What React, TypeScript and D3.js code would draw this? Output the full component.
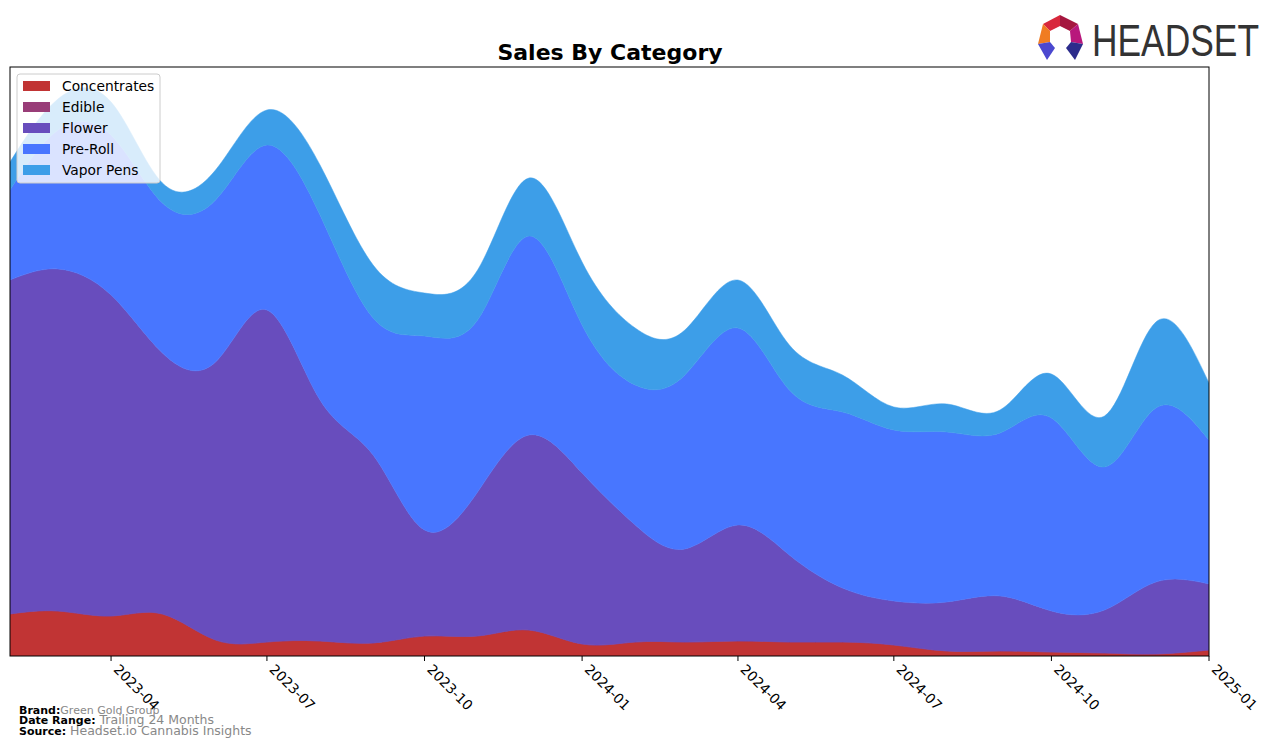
import React from "react";
import * as d3 from "d3";

const months = [
  "2023-02", "2023-03", "2023-04", "2023-05", "2023-06", "2023-07", "2023-08", "2023-09",
  "2023-10", "2023-11", "2023-12", "2024-01", "2024-02", "2024-03", "2024-04", "2024-05",
  "2024-06", "2024-07", "2024-08", "2024-09", "2024-10", "2024-11", "2024-12", "2025-01",
];
const categories = ["Concentrates", "Edible", "Flower", "Pre-Roll", "Vapor Pens"];
const concentrates = [42, 45, 40, 42, 16, 14, 15, 13, 20, 20, 26, 12, 14, 14, 15, 14, 14, 11, 5, 5, 4, 3, 2, 6];
const edible = [0, 0, 0, 0, 0, 0, 0, 0, 0, 0, 0, 0, 0, 0, 0, 0, 0, 0, 0, 0, 0, 0, 0, 0];
const flower = [334, 342, 321, 261, 278, 332, 241, 188, 106, 144, 195, 171, 117, 93, 116, 87, 54, 44, 49, 55, 41, 43, 72, 66];
const preRoll = [90, 139, 160, 150, 162, 165, 185, 137, 194, 172, 199, 148, 140, 174, 197, 165, 176, 171, 170, 163, 193, 143, 174, 144];
const vaporPens = [28, 31, 33, 20, 30, 35, 50, 53, 43, 50, 58, 63, 57, 45, 48, 45, 37, 23, 28, 23, 44, 51, 86, 57];
const tickLabels = ["2023-04", "2023-07", "2023-10", "2024-01", "2024-04", "2024-07", "2024-10", "2025-01"];
const colors = ["#c13434", "#993d78", "#684dbd", "#4876ff", "#3d9ee8"];

const W = 1276;
const H = 747;
const left = 10, right = 1209, top = 67, bottom = 656;

export default function App() {
  const parse = d3.timeParse("%Y-%m");
  const dates = months.map((m) => parse(m) as Date);
  const seriesVals = [concentrates, edible, flower, preRoll, vaporPens];
  const rows = dates.map((d, i) => {
    const r: any = { date: d };
    categories.forEach((c, k) => (r[c] = seriesVals[k][i]));
    return r;
  });
  const stack = d3.stack<any>().keys(categories);
  const stacked = stack(rows);

  const x = d3.scaleTime().domain([dates[0], dates[dates.length - 1]]).range([left, right]);
  const y = d3.scaleLinear().domain([0, 589]).range([bottom, top]);

  const area = d3
    .area<any>()
    .x((d) => x(d.data.date))
    .y0((d) => y(d[0]))
    .y1((d) => y(d[1]))
    .curve(d3.curveNatural);

  const ticks = tickLabels.map((t) => parse(t) as Date);

  return (
    <svg
      width={W}
      height={H}
      style={{ position: "fixed", left: 0, top: 0, background: "#fff" }}
      fontFamily="DejaVu Sans, sans-serif"
    >
      <rect x={0} y={0} width={W} height={H} fill="#fff" />
      <defs>
        <clipPath id="plot">
          <rect x={left} y={top} width={right - left} height={bottom - top} />
        </clipPath>
      </defs>
      <g clipPath="url(#plot)">
        {stacked.map((s, k) => (
          <path key={categories[k]} d={area(s) || ""} fill={colors[k]} stroke={colors[k]} strokeWidth={0.5} />
        ))}
      </g>
      <rect x={left} y={top} width={right - left} height={bottom - top} fill="none" stroke="#000" strokeWidth={1} />

      {ticks.map((t, i) => {
        const tx = x(t);
        const ax = tx + 9;
        const ay = bottom + 7;
        return (
          <g key={tickLabels[i]}>
            <line x1={tx} x2={tx} y1={bottom} y2={bottom + 5} stroke="#000" strokeWidth={1} />
            <text
              x={ax}
              y={ay}
              fontSize={13.8}
              fill="#000"
              transform={`rotate(45 ${ax} ${ay})`}
              dominantBaseline="hanging"
            >
              {tickLabels[i]}
            </text>
          </g>
        );
      })}

      <text x={610} y={60} textAnchor="middle" fontSize={22} fontWeight="bold" fill="#000">
        Sales By Category
      </text>

      <g>
        <rect x={17} y={74} width={143} height={109} rx={3} fill="#fff" fillOpacity={0.8} stroke="#ccc" />
        {categories.map((c, k) => (
          <g key={c}>
            <rect x={23} y={81 + k * 21} width={27} height={10} fill={colors[k]} />
            <text x={62} y={86 + k * 21} fontSize={13.8} dominantBaseline="central" fill="#000">
              {c}
            </text>
          </g>
        ))}
      </g>

      <g fontSize={11}>
        <text x={19} y={714}>
          <tspan fontWeight="bold">Brand:</tspan>
          <tspan fill="#888">Green Gold Group</tspan>
        </text>
        <text x={19} y={724}>
          <tspan fontWeight="bold">Date Range:</tspan>
          <tspan fill="#888" fontSize={12.5}> Trailing 24 Months</tspan>
        </text>
        <text x={19} y={735}>
          <tspan fontWeight="bold">Source:</tspan>
          <tspan fill="#888" fontSize={12.5}> Headset.io Cannabis Insights</tspan>
        </text>
      </g>

      <g>
        <polygon points="1043,24 1060,15 1060,26 1050,31" fill="#d8283c" />
        <polygon points="1060,15 1078,24 1070,31 1060,26" fill="#a5163f" />
        <polygon points="1043,24 1050,31 1050,42 1038,44" fill="#f07c22" />
        <polygon points="1078,24 1083,44 1071,42 1070,31" fill="#b8177c" />
        <polygon points="1038,44 1050,42 1055,48 1047,60" fill="#4b48cf" />
        <polygon points="1083,44 1071,42 1066,48 1075,60" fill="#2c2c8c" />
        <text x={1092} y={56} fontSize={44} fill="#333" textLength={167} lengthAdjust="spacingAndGlyphs" fontFamily="Liberation Sans, Arial, sans-serif">
          HEADSET
        </text>
      </g>
    </svg>
  );
}
